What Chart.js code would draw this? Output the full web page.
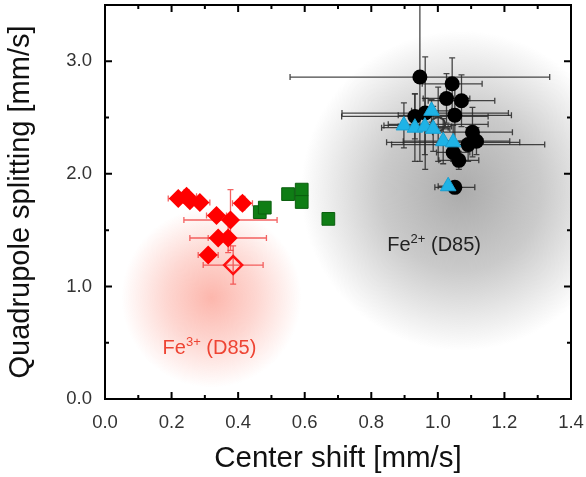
<!DOCTYPE html>
<html>
<head>
<meta charset="utf-8">
<title>Mössbauer parameters</title>
<script src="https://cdn.jsdelivr.net/npm/chart.js@4.4.1/dist/chart.umd.min.js"></script>
<style>
    html, body { margin: 0; padding: 0; background: #fff; }
</style>
</head>
<body>
<canvas id="chart" width="586" height="477"></canvas>
<script>
// Fe3+ (red diamonds)
const fe3Cs = [0.220, 0.245, 0.255, 0.285, 0.413, 0.335, 0.377, 0.340, 0.370, 0.310];
const fe3Qs = [1.78, 1.80, 1.76, 1.745, 1.74, 1.63, 1.59, 1.43, 1.43, 1.28];
const fe3CsErr = [0.03, 0.03, 0.02, 0.03, 0.03, 0.03, 0.14, 0.03, 0.115, 0.03];
const fe3QsErr = [0.03, 0.06, 0.05, 0.04, 0.06, 0.05, 0.27, 0.03, 0.13, 0.03];

// open red diamond
const fe3OpenCs = [0.385];
const fe3OpenQs = [1.19];
const fe3OpenCsErr = [0.09];
const fe3OpenQsErr = [0.17];

// green squares
const greenCs = [0.465, 0.480, 0.550, 0.591, 0.591, 0.671];
const greenQs = [1.66, 1.70, 1.82, 1.86, 1.75, 1.60];

// Fe2+ (black circles)
const fe2Cs = [0.946, 1.043, 1.071, 1.026, 1.051, 0.931, 0.962, 1.104, 1.091, 1.116, 1.046, 1.063, 1.051];
const fe2Qs = [2.86, 2.80, 2.65, 2.67, 2.52, 2.51, 2.54, 2.37, 2.26, 2.29, 2.19, 2.12, 1.88];
const fe2CsErr = [0.39, 0.09, 0.10, 0.07, 0.17, 0.22, 0.25, 0.12, 0.23, 0.10, 0.05, 0.06, 0.06];
const fe2QsErr = [0.75, 0.23, 0.23, 0.22, 0.30, 0.20, 0.50, 0.22, 0.15, 0.12, 0.08, 0.08, 0.05];

// open black circle
const fe2OpenCs = [1.001];
const fe2OpenQs = [2.44];
const fe2OpenCsErr = [0.15];
const fe2OpenQsErr = [0.33];

// blue triangles
const blueCs = [0.981, 0.898, 0.931, 0.961, 0.986, 1.016, 1.046, 1.031];
const blueQs = [2.56, 2.43, 2.41, 2.42, 2.40, 2.29, 2.28, 1.89];
const blueCsErr = [0.06, 0.06, 0.10, 0.08, 0.05, 0.12, 0.20, 0.03];
const blueQsErr = [0.10, 0.20, 0.30, 0.25, 0.20, 0.20, 0.15, 0.03];

const xTicks = [0, 0.2, 0.4, 0.6, 0.8, 1.0, 1.2, 1.4];
const yTicks = [0, 1, 2, 3];

const FONT = '"Liberation Sans", Arial, Helvetica, sans-serif';

function points(xs, ys) {
    return xs.map((x, i) => ({ x: x, y: ys[i] }));
}

// soft coloured clouds behind the data, then the error bars
const cloudPlugin = {
    id: 'clouds',
    beforeDatasetsDraw(chart) {
        const { ctx, chartArea, scales } = chart;
        ctx.save();
        ctx.beginPath();
        ctx.rect(chartArea.left, chartArea.top, chartArea.right - chartArea.left, chartArea.bottom - chartArea.top);
        ctx.clip();

        const clouds = [
            { x: 1.07, y: 1.85, r: 160, c: '150,150,150', a: [0.8, 0.5, 0] },
            { x: 0.32, y: 0.9, r: 90, c: '250,110,90', a: [0.5, 0.28, 0] },
        ];
        clouds.forEach((cl) => {
            const cx = scales.x.getPixelForValue(cl.x);
            const cy = scales.y.getPixelForValue(cl.y);
            const g = ctx.createRadialGradient(cx, cy, 0, cx, cy, cl.r);
            g.addColorStop(0, 'rgba(' + cl.c + ',' + cl.a[0] + ')');
            g.addColorStop(0.5, 'rgba(' + cl.c + ',' + cl.a[1] + ')');
            g.addColorStop(1, 'rgba(' + cl.c + ',' + cl.a[2] + ')');
            ctx.fillStyle = g;
            ctx.fillRect(cx - cl.r, cy - cl.r, cl.r * 2, cl.r * 2);
        });

        chart.data.datasets.forEach((ds) => {
            if (!ds.errX) return;
            ctx.strokeStyle = ds.errColor;
            ctx.lineWidth = 1.3;
            ds.data.forEach((p, i) => {
                const px = scales.x.getPixelForValue(p.x);
                const py = scales.y.getPixelForValue(p.y);
                const x0 = scales.x.getPixelForValue(p.x - ds.errX[i]);
                const x1 = scales.x.getPixelForValue(p.x + ds.errX[i]);
                const y0 = scales.y.getPixelForValue(p.y - ds.errY[i]);
                const y1 = scales.y.getPixelForValue(p.y + ds.errY[i]);
                const cap = 3;
                ctx.beginPath();
                ctx.moveTo(x0, py); ctx.lineTo(x1, py);
                ctx.moveTo(x0, py - cap); ctx.lineTo(x0, py + cap);
                ctx.moveTo(x1, py - cap); ctx.lineTo(x1, py + cap);
                ctx.moveTo(px, y0); ctx.lineTo(px, y1);
                ctx.moveTo(px - cap, y0); ctx.lineTo(px + cap, y0);
                ctx.moveTo(px - cap, y1); ctx.lineTo(px + cap, y1);
                ctx.stroke();
            });
        });
        ctx.restore();
    },
};

// box frame with inward ticks on all four sides, plus the two labels
const framePlugin = {
    id: 'frame',
    afterDraw(chart) {
        const { ctx, chartArea: a, scales } = chart;
        ctx.save();
        ctx.strokeStyle = '#000';
        ctx.lineWidth = 2;
        ctx.strokeRect(a.left, a.top, a.right - a.left, a.bottom - a.top);

        ctx.beginPath();
        for (let v = 0; v <= 14; v++) {
            const x = scales.x.getPixelForValue(v / 10);
            const len = v % 2 === 0 ? 7 : 4;
            ctx.moveTo(x, a.bottom); ctx.lineTo(x, a.bottom - len);
            ctx.moveTo(x, a.top); ctx.lineTo(x, a.top + len);
        }
        for (let v = 0; v <= 7; v++) {
            const y = scales.y.getPixelForValue(v / 2);
            const len = v % 2 === 0 ? 7 : 4;
            ctx.moveTo(a.left, y); ctx.lineTo(a.left + len, y);
            ctx.moveTo(a.right, y); ctx.lineTo(a.right - len, y);
        }
        ctx.stroke();

        const label = (x, y, sup, color) => {
            let px = scales.x.getPixelForValue(x);
            const py = scales.y.getPixelForValue(y);
            ctx.fillStyle = color;
            ctx.textBaseline = 'alphabetic';
            ctx.textAlign = 'left';
            ctx.font = '20px ' + FONT;
            ctx.fillText('Fe', px, py);
            px += ctx.measureText('Fe').width;
            ctx.font = '13px ' + FONT;
            ctx.fillText(sup, px, py - 8);
            px += ctx.measureText(sup).width;
            ctx.font = '20px ' + FONT;
            ctx.fillText(' (D85)', px, py);
        };
        label(0.848, 1.316, '2+', '#222');
        label(0.173, 0.40, '3+', '#ee4433');
        ctx.restore();
    },
};

new Chart(document.getElementById('chart'), {
    type: 'scatter',
    data: {
        datasets: [
            {
                data: points(blueCs, blueQs),
                errX: blueCsErr, errY: blueQsErr, errColor: 'rgba(40,40,40,0.85)',
                pointStyle: 'triangle',
                pointRadius: 9,
                backgroundColor: '#1fb3e6',
                borderColor: '#1a9fd0',
                borderWidth: 1,
            },
            {
                data: points(fe2OpenCs, fe2OpenQs),
                errX: fe2OpenCsErr, errY: fe2OpenQsErr, errColor: 'rgba(40,40,40,0.85)',
                pointStyle: 'circle',
                pointRadius: 7,
                backgroundColor: 'rgba(0,0,0,0)',
                borderColor: '#333',
                borderWidth: 2,
            },
            {
                data: points(fe2Cs, fe2Qs),
                errX: fe2CsErr, errY: fe2QsErr, errColor: 'rgba(40,40,40,0.85)',
                pointStyle: 'circle',
                pointRadius: 7.5,
                backgroundColor: '#000',
                borderColor: '#000',
                borderWidth: 0,
            },
            {
                data: points(greenCs, greenQs),
                pointStyle: 'rect',
                pointRadius: 9,
                backgroundColor: '#0f7d15',
                borderColor: '#0a5e0e',
                borderWidth: 1,
            },
            {
                data: points(fe3OpenCs, fe3OpenQs),
                errX: fe3OpenCsErr, errY: fe3OpenQsErr, errColor: 'rgba(240,60,60,0.8)',
                pointStyle: 'rectRot',
                pointRadius: 9,
                backgroundColor: 'rgba(0,0,0,0)',
                borderColor: '#ff1010',
                borderWidth: 2.5,
            },
            {
                data: points(fe3Cs, fe3Qs),
                errX: fe3CsErr, errY: fe3QsErr, errColor: 'rgba(240,60,60,0.8)',
                pointStyle: 'rectRot',
                pointRadius: 9.5,
                backgroundColor: '#ff0000',
                borderColor: '#ff0000',
                borderWidth: 0,
            },
        ],
    },
    options: {
        responsive: false,
        animation: false,
        layout: {
            autoPadding: false,
            padding: { top: 5, right: 15, left: 0, bottom: 0 },
        },
        plugins: {
            legend: { display: false },
            tooltip: { enabled: false },
        },
        scales: {
            x: {
                type: 'linear',
                min: 0,
                max: 1.4,
                afterFit: (scale) => {
                    scale.height = 78;
                    scale.paddingLeft = 0;
                    scale.paddingRight = 0;
                },
                afterBuildTicks: (scale) => { scale.ticks = xTicks.map((v) => ({ value: v })); },
                grid: { display: false, drawTicks: false },
                border: { display: false },
                ticks: {
                    padding: 13,
                    color: '#333',
                    font: { family: FONT, size: 18.5 },
                    maxRotation: 0,
                    callback: (v) => Number(v).toFixed(1),
                },
                title: {
                    display: true,
                    text: 'Center shift [mm/s]',
                    color: '#111',
                    font: { family: FONT, size: 29.5 },
                    padding: { top: 0, bottom: 0 },
                },
            },
            y: {
                type: 'linear',
                min: 0,
                max: 3.5,
                afterFit: (scale) => {
                    scale.width = 105;
                    scale.paddingTop = 0;
                    scale.paddingBottom = 0;
                },
                afterBuildTicks: (scale) => { scale.ticks = yTicks.map((v) => ({ value: v })); },
                grid: { display: false, drawTicks: false },
                border: { display: false },
                ticks: {
                    padding: 13,
                    color: '#333',
                    font: { family: FONT, size: 18.5 },
                    callback: (v) => Number(v).toFixed(1),
                },
                title: {
                    display: true,
                    text: 'Quadrupole splitting [mm/s]',
                    color: '#111',
                    font: { family: FONT, size: 29 },
                    padding: { top: 4, bottom: 0 },
                },
            },
        },
    },
    plugins: [cloudPlugin, framePlugin],
});
</script>
</body>
</html>
